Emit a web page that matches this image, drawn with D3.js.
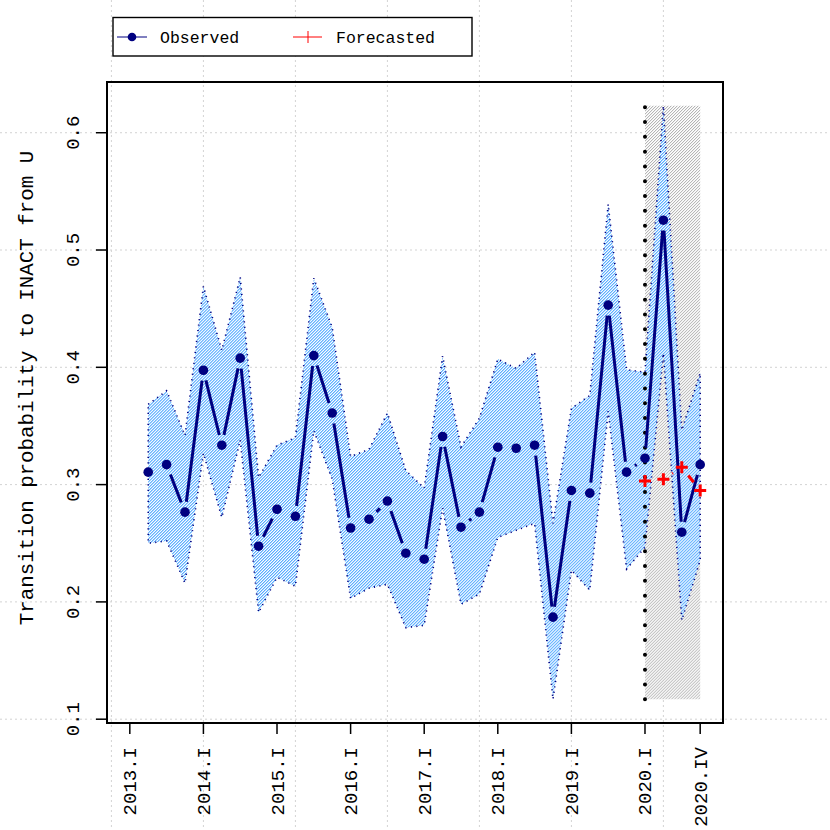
<!DOCTYPE html>
<html>
<head>
<meta charset="utf-8">
<script src="https://cdn.jsdelivr.net/npm/d3@7"></script>
<style>
  body { margin: 0; background: #fff; }
  svg { display: block; font-family: 'Liberation Mono', 'Courier New', monospace; }
</style>
</head>
<body>
<div id="chart"></div>
<script>
// quarters 2013.I .. 2020.IV, position 1..32 on the x axis
const years = [2013, 2014, 2015, 2016, 2017, 2018, 2019, 2020];
const romans = ['I', 'II', 'III', 'IV'];
const quarters = years.flatMap(y => romans.map(r => `${y}.${r}`));

// observed series starts at 2013.II
const observedPeriods = quarters.slice(1);
const observed = [0.3106, 0.317, 0.2765, 0.3975, 0.3336, 0.4078, 0.2475, 0.279, 0.273, 0.410,
  0.361, 0.263, 0.2705, 0.286, 0.2415, 0.2364, 0.341, 0.2637, 0.2765, 0.3319,
  0.3310, 0.3336, 0.187, 0.295, 0.2927, 0.453, 0.3106, 0.3225, 0.5254, 0.2594, 0.317];
const upper = [0.3685, 0.380, 0.342, 0.469, 0.4146, 0.4768, 0.306, 0.3336, 0.340, 0.476,
  0.434, 0.324, 0.330, 0.361, 0.312, 0.297, 0.4095, 0.332, 0.3566, 0.407,
  0.399, 0.413, 0.267, 0.365, 0.376, 0.539, 0.398, 0.3958, 0.623, 0.3464, 0.395];
const lower = [0.250, 0.252, 0.216, 0.3268, 0.272, 0.338, 0.191, 0.221, 0.2134, 0.346,
  0.3046, 0.203, 0.2117, 0.215, 0.178, 0.180, 0.280, 0.198, 0.2066, 0.255,
  0.261, 0.267, 0.117, 0.227, 0.210, 0.3626, 0.228, 0.2466, 0.412, 0.1844, 0.2355];

const forecastPeriods = ['2020.I', '2020.II', '2020.III', '2020.IV'];
const forecasted = [0.303, 0.3046, 0.3148, 0.295];

const tickLabels = ['2013.I', '2014.I', '2015.I', '2016.I', '2017.I', '2018.I', '2019.I', '2020.I', '2020.IV'];
const yTicks = [0.1, 0.2, 0.3, 0.4, 0.5, 0.6];
const xGrid = [0, 5, 10, 15, 20, 25, 30];

const W = 830, H = 830;
const plot = { left: 107, right: 723, top: 82, bottom: 723 };
const pos = p => quarters.indexOf(p) + 1;

// R style 4% padding around the data range
const pad = (lo, hi) => [lo - (hi - lo) * 0.04, hi + (hi - lo) * 0.04];
const ylim = [d3.min(lower), d3.max(upper)];

const x = d3.scaleLinear().domain(pad(1, quarters.length)).range([plot.left, plot.right]);
const y = d3.scaleLinear().domain(pad(ylim[0], ylim[1])).range([plot.bottom, plot.top]);

const svg = d3.select('#chart').append('svg')
  .attr('width', W).attr('height', H);

const defs = svg.append('defs');
function hatch(id, color, width) {
  const p = defs.append('pattern')
    .attr('id', id)
    .attr('patternUnits', 'userSpaceOnUse')
    .attr('width', 2.12).attr('height', 2.12)
    .attr('patternTransform', 'rotate(45)');
  p.append('rect').attr('width', 2.12).attr('height', 2.12).attr('fill', '#fff');
  p.append('rect').attr('width', width).attr('height', 2.12).attr('fill', color);
}
hatch('hatch-blue', '#56acff', 1.05);
hatch('hatch-grey', '#b4b4b4', 0.85);

// grid, drawn across the whole device like the original
const grid = svg.append('g')
  .attr('stroke', '#d3d3d3')
  .attr('stroke-dasharray', '2,3');
grid.selectAll('.hgrid')
  .data(yTicks)
  .join('line')
  .attr('x1', 0).attr('x2', W)
  .attr('y1', d => y(d)).attr('y2', d => y(d));
grid.selectAll('.vgrid')
  .data(xGrid)
  .join('line')
  .attr('x1', d => x(d)).attr('x2', d => x(d))
  .attr('y1', 0).attr('y2', H);

// forecast window
svg.append('rect')
  .attr('x', x(pos(forecastPeriods[0])))
  .attr('width', x(pos(forecastPeriods[forecastPeriods.length - 1])) - x(pos(forecastPeriods[0])))
  .attr('y', y(ylim[1]))
  .attr('height', y(ylim[0]) - y(ylim[1]))
  .attr('fill', 'url(#hatch-grey)');

// confidence band
const bandData = observedPeriods.map((p, i) => ({ p, hi: upper[i], lo: lower[i] }));
const band = bandData.map(d => [x(pos(d.p)), y(d.hi)])
  .concat(bandData.slice().reverse().map(d => [x(pos(d.p)), y(d.lo)]));
svg.append('polygon')
  .attr('points', band.map(d => d.join(',')).join(' '))
  .attr('fill', 'url(#hatch-blue)')
  .attr('stroke', '#000080')
  .attr('stroke-width', 1.6)
  .attr('stroke-dasharray', '1.2,4.3');

// start of forecast marker
svg.append('line')
  .attr('x1', x(pos(forecastPeriods[0]))).attr('x2', x(pos(forecastPeriods[0])))
  .attr('y1', y(ylim[0])).attr('y2', y(ylim[1]))
  .attr('stroke', '#000')
  .attr('stroke-width', 4)
  .attr('stroke-linecap', 'round')
  .attr('stroke-dasharray', '0,14.8');

// type = "b": segments stop short of each point
function gapSegments(pts, gap) {
  const segs = [];
  for (let i = 1; i < pts.length; i++) {
    const [x0, y0] = pts[i - 1], [x1, y1] = pts[i];
    const len = Math.hypot(x1 - x0, y1 - y0);
    if (len <= 2 * gap) continue;
    const ux = (x1 - x0) / len, uy = (y1 - y0) / len;
    segs.push([x0 + ux * gap, y0 + uy * gap, x1 - ux * gap, y1 - uy * gap]);
  }
  return segs;
}

const obsPts = observedPeriods.map((p, i) => [x(pos(p)), y(observed[i])]);
svg.append('g').selectAll('line')
  .data(gapSegments(obsPts, 10.5))
  .join('line')
  .attr('x1', d => d[0]).attr('y1', d => d[1])
  .attr('x2', d => d[2]).attr('y2', d => d[3])
  .attr('stroke', '#000080')
  .attr('stroke-width', 3);
svg.append('g').selectAll('circle')
  .data(obsPts)
  .join('circle')
  .attr('cx', d => d[0]).attr('cy', d => d[1])
  .attr('r', 4.8)
  .attr('fill', '#000080');

const fcPts = forecastPeriods.map((p, i) => [x(pos(p)), y(forecasted[i])]);
svg.append('g').selectAll('line')
  .data(gapSegments(fcPts, 10.5))
  .join('line')
  .attr('x1', d => d[0]).attr('y1', d => d[1])
  .attr('x2', d => d[2]).attr('y2', d => d[3])
  .attr('stroke', '#ff0000')
  .attr('stroke-width', 3);
svg.append('g').selectAll('path')
  .data(fcPts)
  .join('path')
  .attr('d', d => `M${d[0] - 6},${d[1]}h12M${d[0]},${d[1] - 6}v12`)
  .attr('stroke', '#ff0000')
  .attr('stroke-width', 3);

// frame
svg.append('rect')
  .attr('x', plot.left).attr('y', plot.top)
  .attr('width', plot.right - plot.left).attr('height', plot.bottom - plot.top)
  .attr('fill', 'none')
  .attr('stroke', '#000')
  .attr('stroke-width', 2);

// axes
const xAxis = svg.append('g');
xAxis.selectAll('line')
  .data(tickLabels)
  .join('line')
  .attr('x1', d => x(pos(d))).attr('x2', d => x(pos(d)))
  .attr('y1', plot.bottom).attr('y2', plot.bottom + 11)
  .attr('stroke', '#000').attr('stroke-width', 1.5);
xAxis.selectAll('text')
  .data(tickLabels)
  .join('text')
  .attr('transform', d => `translate(${x(pos(d)) + 6.5},${plot.bottom + 24}) rotate(-90)`)
  .attr('text-anchor', 'end')
  .attr('font-size', 19)
  .attr('fill', '#000')
  .text(d => d);

const yAxis = svg.append('g');
yAxis.selectAll('line')
  .data(yTicks)
  .join('line')
  .attr('x1', plot.left).attr('x2', plot.left - 11)
  .attr('y1', d => y(d)).attr('y2', d => y(d))
  .attr('stroke', '#000').attr('stroke-width', 1.5);
yAxis.selectAll('text')
  .data(yTicks)
  .join('text')
  .attr('transform', d => `translate(79,${y(d)}) rotate(-90)`)
  .attr('text-anchor', 'middle')
  .attr('font-size', 19)
  .attr('fill', '#000')
  .text(d => d3.format('.1f')(d));

svg.append('text')
  .attr('transform', `translate(33,388) rotate(-90)`)
  .attr('text-anchor', 'middle')
  .attr('font-size', 20.8)
  .attr('fill', '#000')
  .text('Transition probability to INACT from U');

// legend
const legend = svg.append('g');
legend.append('rect')
  .attr('x', 113).attr('y', 17.5)
  .attr('width', 359).attr('height', 38.5)
  .attr('fill', '#fff')
  .attr('stroke', '#000')
  .attr('stroke-width', 1.4);
const ly = 37;
legend.append('line')
  .attr('x1', 117).attr('x2', 147).attr('y1', ly).attr('y2', ly)
  .attr('stroke', '#000080').attr('stroke-width', 1);
legend.append('circle')
  .attr('cx', 132).attr('cy', ly).attr('r', 4.3)
  .attr('fill', '#000080');
legend.append('text')
  .attr('x', 160).attr('y', ly + 5.5)
  .attr('font-size', 16.5)
  .text('Observed');
legend.append('line')
  .attr('x1', 293).attr('x2', 322).attr('y1', ly).attr('y2', ly)
  .attr('stroke', '#ff0000').attr('stroke-width', 1);
legend.append('line')
  .attr('x1', 308).attr('x2', 308).attr('y1', ly - 6).attr('y2', ly + 6)
  .attr('stroke', '#ff0000').attr('stroke-width', 1);
legend.append('text')
  .attr('x', 336).attr('y', ly + 5.5)
  .attr('font-size', 16.5)
  .text('Forecasted');
</script>
</body>
</html>
